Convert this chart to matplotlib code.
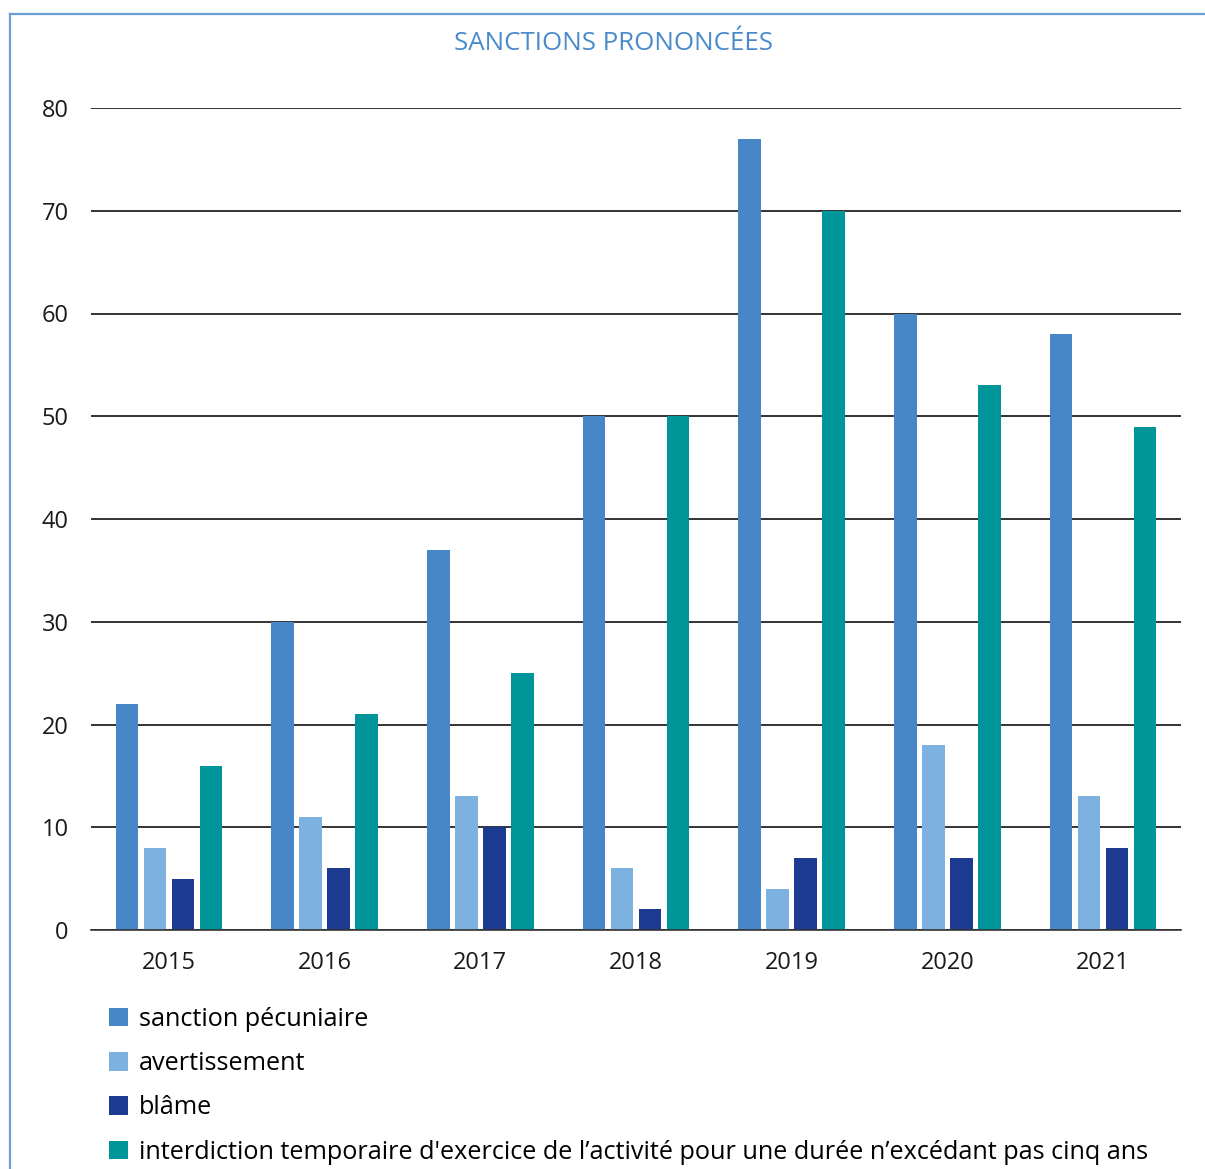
import matplotlib
matplotlib.use("Agg")
import matplotlib.pyplot as plt
import numpy as np
from matplotlib.patches import Patch
from matplotlib.lines import Line2D

plt.rcParams['font.family'] = ['Open Sans', 'DejaVu Sans']

years = ["2015", "2016", "2017", "2018", "2019", "2020", "2021"]
sanction_pecuniaire = [22, 30, 37, 50, 77, 60, 58]
avertissement = [8, 11, 13, 6, 4, 18, 13]
blame = [5, 6, 10, 2, 7, 7, 8]
interdiction = [16, 21, 25, 50, 70, 53, 49]

series_labels = [
    "sanction pécuniaire",
    "avertissement",
    "blâme",
    "interdiction temporaire d'exercice de l\u2019activité pour une durée n\u2019excédant pas cinq ans",
]
series_values = [sanction_pecuniaire, avertissement, blame, interdiction]
colors = ["#4787c7", "#7db1e0", "#1b3a90", "#009599"]

W, H = 1205, 1169
fig = plt.figure(figsize=(W / 100, H / 100), dpi=100)
ax = fig.add_axes([91 / W, 1 - 930 / H, (1181 - 91) / W, (930 - 108) / H])

x = np.arange(len(years))
pitch = 0.18
width = 0.145
offsets = (np.arange(4) - 1.5) * pitch
for vals, off, col in zip(series_values, offsets, colors):
    ax.bar(x + off, vals, width=width, color=col, zorder=3)

ax.set_xlim(-0.5, len(years) - 0.5)
ax.set_ylim(0, 80)
ax.set_yticks(range(0, 81, 10))
ax.set_xticks(x)
ax.set_xticklabels(years)
ax.tick_params(axis='both', length=0, labelsize=17, colors="#1a1a1a")
ax.tick_params(axis='y', pad=16)
ax.tick_params(axis='x', pad=15)
ax.yaxis.grid(True, color="#111111", linewidth=1.2, zorder=0)
for s in ["top", "right", "left"]:
    ax.spines[s].set_visible(False)
ax.spines["bottom"].set_color("#333333")
ax.spines["bottom"].set_linewidth(1.2)
ax.spines["bottom"].set_zorder(4)

fig.text(613 / W, 1 - 43 / H, "SANCTIONS PRONONCÉES", ha="center", va="center",
         fontsize=18.6, color="#4a8acb")

# frame lines along the top and left edges
fig.add_artist(Line2D([9.5 / W, 1.0], [1 - 14 / H, 1 - 14 / H], color="#6a9fd8",
                      linewidth=1.6, transform=fig.transFigure))
fig.add_artist(Line2D([9.5 / W, 9.5 / W], [0, 1 - 14 / H], color="#6a9fd8",
                      linewidth=1.6, transform=fig.transFigure))

handles = [Patch(facecolor=c, edgecolor="none") for c in colors]
fig.legend(handles, series_labels, loc="upper left",
           bbox_to_anchor=(109 / W, 1 - 1007 / H), frameon=False, fontsize=18.2,
           handlelength=0.75, handleheight=0.75, handletextpad=0.42,
           labelspacing=0.76, borderpad=0, borderaxespad=0)

fig.savefig("out.png", dpi=100)
